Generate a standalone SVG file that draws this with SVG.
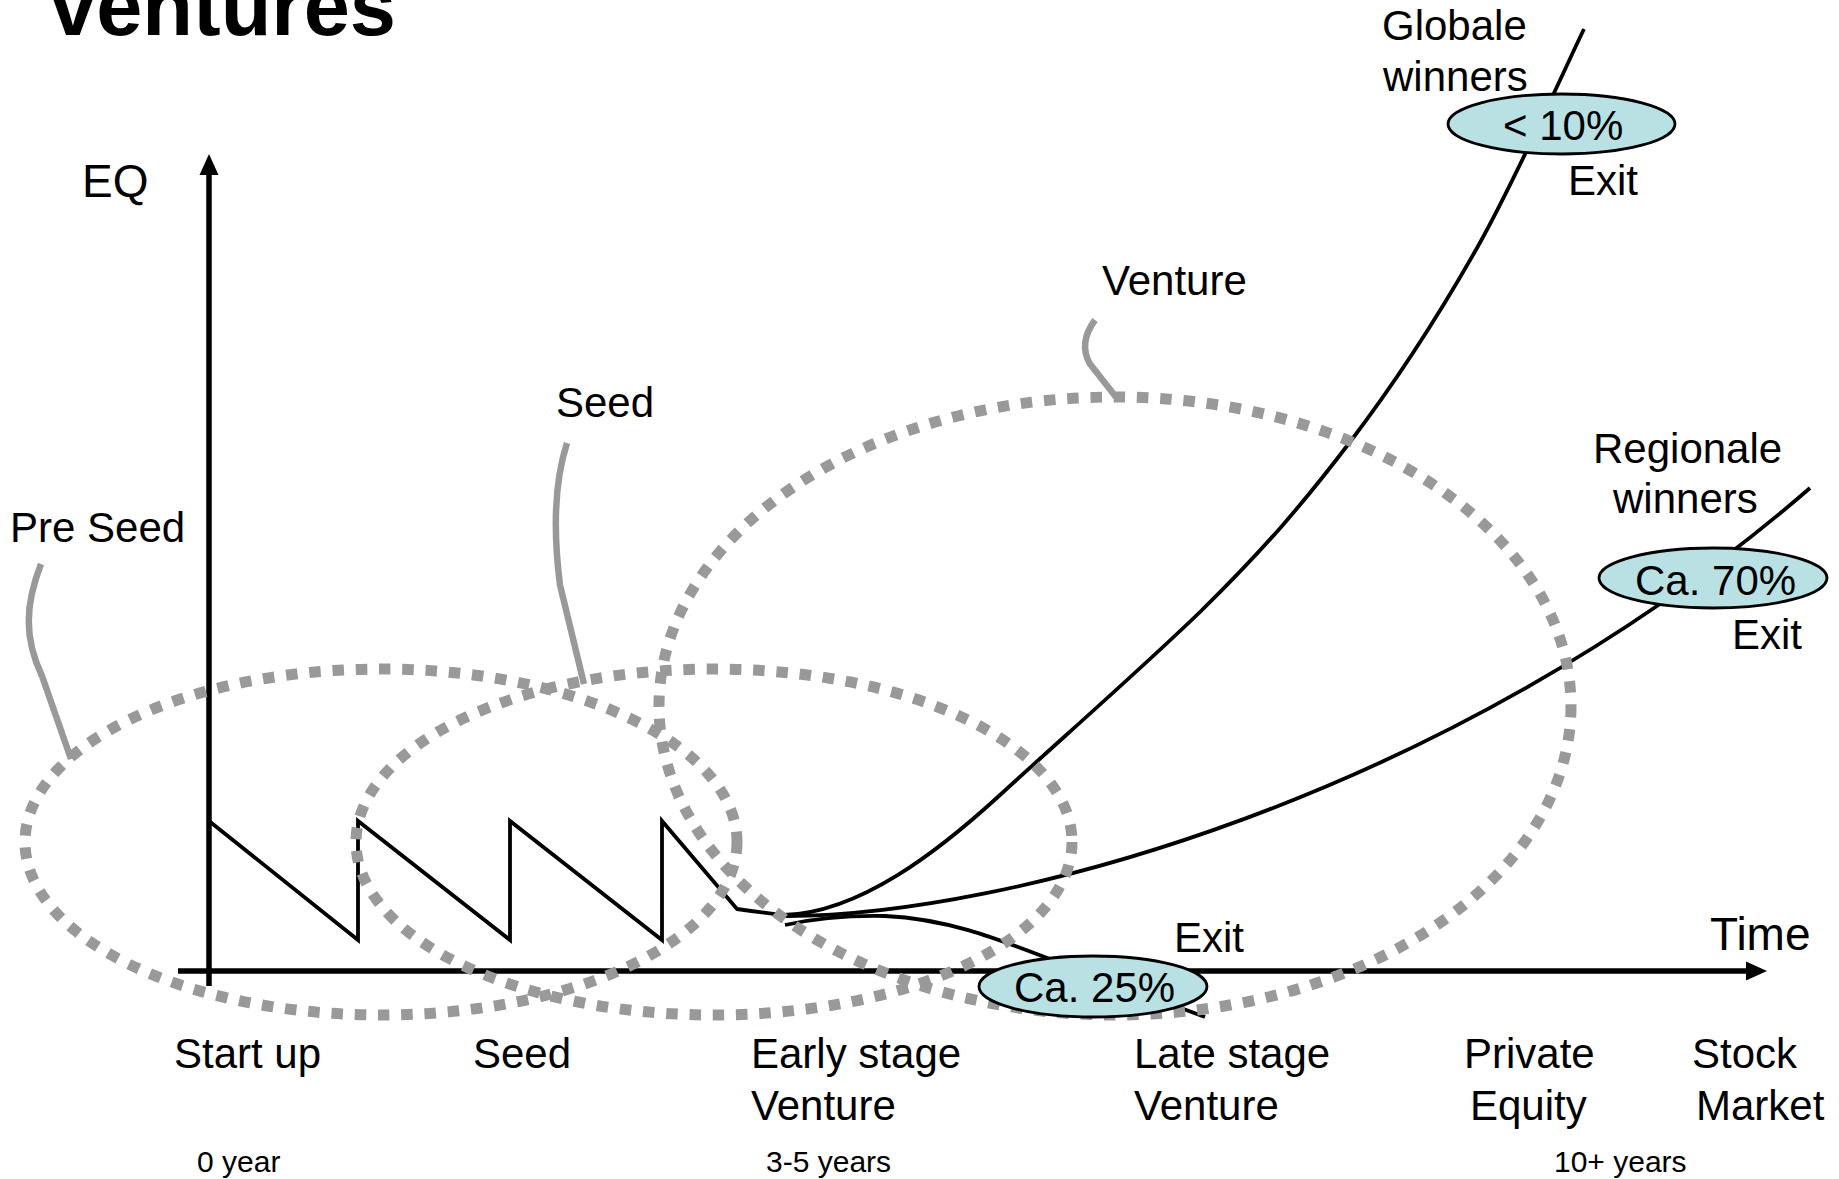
<svg xmlns="http://www.w3.org/2000/svg" width="1839" height="1179" viewBox="0 0 1839 1179">
<style>
text{font-family:"Liberation Sans",Arial,sans-serif;fill:#000}
.lbl{font-size:42px}
.ax{font-size:46px}
.yr{font-size:30px}
.title{font-size:83px;font-weight:bold}
.dot{fill:none;stroke:#999;stroke-width:11;stroke-dasharray:11.5 11.8}
.call{fill:none;stroke:#999;stroke-width:6.5;stroke-linecap:butt}
.crv{fill:none;stroke:#000;stroke-width:3.8;stroke-linejoin:miter}
.axis{stroke:#000;stroke-width:5.5;fill:none}
.pct{fill:#b9e0e3;stroke:#000;stroke-width:2.8}
</style>
<rect width="1839" height="1179" fill="#fff"/>
<g id="title"><text class="title" x="50" y="35">ventures</text></g>

<g id="axes">
<line class="axis" x1="178" y1="971" x2="1750" y2="971"/>
<polygon points="1746,961.5 1767,971 1746,980.5" fill="#000"/>
<line class="axis" x1="209" y1="172" x2="209" y2="986"/>
<polygon points="199.5,175 209,154 218.5,175" fill="#000"/>
<text class="ax" x="82" y="197">EQ</text>
<text class="ax" x="1710" y="950">Time</text>
</g>

<g id="connectors">
<path class="crv" d="M209,821 L358,940 L358,821 L510,940 L510,821 L662,940 L662,821 L737,909 Q765,913 784,915"/>
<path id="global" class="crv" d="M784,915 C860,913 940,850 1000,795 C1060,740 1140,670 1200,612 C1264.3,549 1303.8,502.7 1350,442 C1396.2,381.3 1438,316.8 1477,248 C1516,179.2 1566.2,65.5 1584,29"/>
<path id="regional" class="crv" d="M784,916 C1000,917 1450,800 1810,488"/>
<path id="decline" class="crv" d="M785,925 Q830,915 885,916 C950,919 1000,940 1060,963 L1205,1017"/>
<path class="call" d="M41,564 C25,605 24,638 42,676 L71,759"/>
<path class="call" d="M567,443 C555,480 553,530 560,585 L584,684"/>
<path class="call" d="M1095,320 Q1078,343 1090,364 L1116,397"/>
</g>

<g id="preseed-phase"><ellipse class="dot" cx="381" cy="842" rx="356" ry="173"/></g>
<g id="seed-phase"><ellipse class="dot" cx="714" cy="842" rx="358" ry="173"/></g>
<g id="venture-phase"><ellipse class="dot" cx="1115" cy="706" rx="456" ry="309"/></g>

<g id="label-preseed"><text class="lbl" x="10" y="542">Pre Seed</text></g>
<g id="label-seed"><text class="lbl" x="556" y="417">Seed</text></g>
<g id="label-venture"><text class="lbl" x="1102" y="295">Venture</text></g>

<g id="global-winners">
<text class="lbl" x="1382" y="40">Globale</text>
<text class="lbl" x="1383" y="91">winners</text>
<ellipse class="pct" cx="1561.5" cy="124" rx="113.5" ry="30"/>
<text class="lbl" x="1503" y="140">&lt; 10%</text>
<text class="lbl" x="1568" y="195">Exit</text>
</g>

<g id="regional-winners">
<text class="lbl" x="1593" y="463">Regionale</text>
<text class="lbl" x="1613" y="513">winners</text>
<ellipse class="pct" cx="1713" cy="578" rx="114" ry="30"/>
<text class="lbl" x="1635" y="595">Ca. 70%</text>
<text class="lbl" x="1732" y="649">Exit</text>
</g>

<g id="exit-25">
<text class="lbl" x="1174" y="952">Exit</text>
<ellipse class="pct" cx="1093" cy="986.5" rx="114" ry="30.5"/>
<text class="lbl" x="1014" y="1002">Ca. 25%</text>
</g>

<g id="stages">
<text class="lbl" x="174" y="1068">Start up</text>
<text class="lbl" x="473" y="1068">Seed</text>
<text class="lbl" x="751" y="1068">Early stage</text>
<text class="lbl" x="751" y="1120">Venture</text>
<text class="lbl" x="1134" y="1068">Late stage</text>
<text class="lbl" x="1134" y="1120">Venture</text>
<text class="lbl" x="1464" y="1068">Private</text>
<text class="lbl" x="1470" y="1120">Equity</text>
<text class="lbl" x="1692" y="1068">Stock</text>
<text class="lbl" x="1696" y="1120">Market</text>
</g>
<g id="years">
<text class="yr" x="197" y="1172">0 year</text>
<text class="yr" x="766" y="1172">3-5 years</text>
<text class="yr" x="1554" y="1172">10+ years</text>
</g>
</svg>
